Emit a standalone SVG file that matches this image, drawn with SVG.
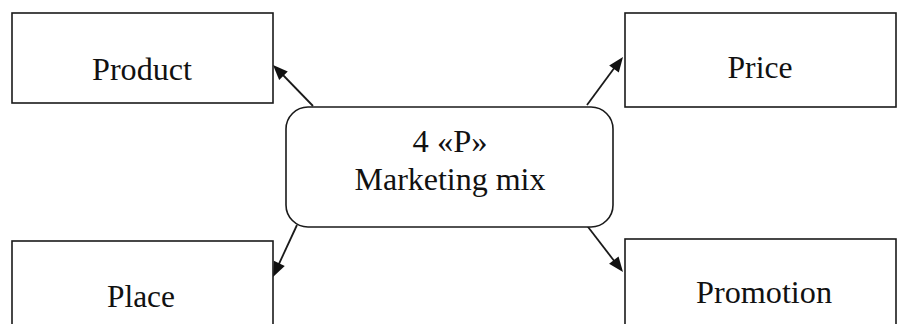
<svg xmlns="http://www.w3.org/2000/svg" width="897" height="324" viewBox="0 0 897 324">
<style>
.box{fill:#fff;stroke:#1a1a1a;stroke-width:1.6}
.t{font-size:31px;fill:#111;text-anchor:middle}
.c{stroke:#1a1a1a;stroke-width:1.8;fill:none}
.h{fill:#111}
</style>
<defs>
<path id="head" d="M0,0 L-15,-6 L-15,6 Z"/>
</defs>
<rect width="897" height="324" fill="#fff"/>
<g id="connectors">
<line class="c" x1="313" y1="106" x2="282" y2="74"/>
<use href="#head" class="h" transform="translate(273,65) rotate(225.7)"/>
<line class="c" x1="587" y1="105" x2="615" y2="67"/>
<use href="#head" class="h" transform="translate(623,57) rotate(-53.1)"/>
<line class="c" x1="297" y1="225" x2="278" y2="266"/>
<use href="#head" class="h" transform="translate(273,277) rotate(114.8)"/>
<line class="c" x1="585" y1="223" x2="615" y2="262"/>
<use href="#head" class="h" transform="translate(623,272) rotate(52.2)"/>
</g>
<g id="product">
<rect class="box" x="12" y="13" width="261" height="90"/>
<text class="t" font-family="Liberation Serif, DejaVu Serif, serif" x="142" y="80" textLength="100" lengthAdjust="spacingAndGlyphs">Product</text>
</g>
<g id="price">
<rect class="box" x="625" y="13" width="271" height="94"/>
<text class="t" font-family="Liberation Serif, DejaVu Serif, serif" x="760" y="78" textLength="65" lengthAdjust="spacingAndGlyphs">Price</text>
</g>
<g id="center">
<rect class="box" x="286" y="107" width="327" height="120" rx="22" ry="22"/>
<text class="t" font-family="Liberation Serif, DejaVu Serif, serif" x="450" y="152" textLength="75" lengthAdjust="spacingAndGlyphs">4 «P»</text>
<text class="t" font-family="Liberation Serif, DejaVu Serif, serif" x="450" y="190" textLength="191" lengthAdjust="spacingAndGlyphs">Marketing mix</text>
</g>
<g id="place">
<rect class="box" x="12" y="241" width="261" height="100"/>
<text class="t" font-family="Liberation Serif, DejaVu Serif, serif" x="141" y="307" textLength="68" lengthAdjust="spacingAndGlyphs">Place</text>
</g>
<g id="promotion">
<rect class="box" x="625" y="239" width="271" height="100"/>
<text class="t" font-family="Liberation Serif, DejaVu Serif, serif" x="764" y="303" textLength="136" lengthAdjust="spacingAndGlyphs">Promotion</text>
</g>
</svg>
